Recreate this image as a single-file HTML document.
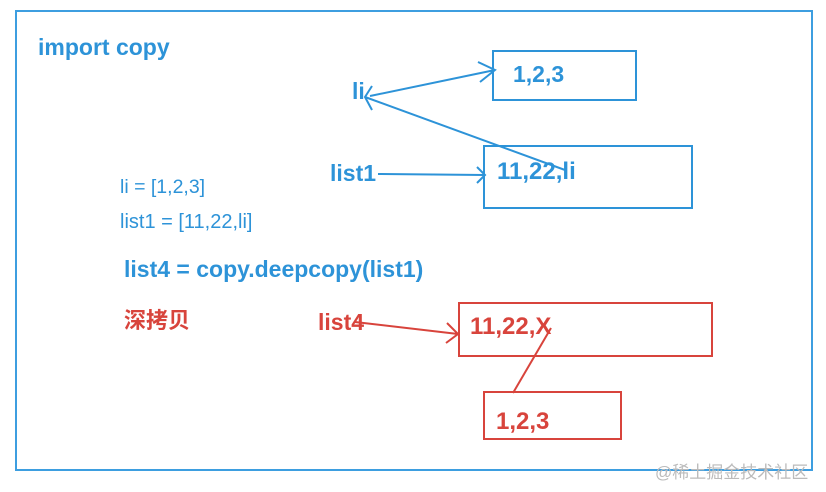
<!DOCTYPE html>
<html><head><meta charset="utf-8"><style>
body{margin:0;width:826px;height:492px;background:#fff;overflow:hidden;position:relative;font-family:"Liberation Sans","Noto Sans CJK SC",sans-serif;}
.t{position:absolute;white-space:nowrap;font-weight:bold;line-height:1;}
.b{color:#2d93d8}.r{color:#d8443c}
</style></head><body>
<svg width="826" height="492" style="position:absolute;left:0;top:0">
<rect x="16" y="11" width="796" height="459" fill="none" stroke="#3d9ee0" stroke-width="2"/>
<g fill="none" stroke="#2d93d8" stroke-width="2">
<rect x="493" y="51" width="143" height="49"/>
<rect x="484" y="146" width="208" height="62"/>
<path d="M370 96 L495 70 M478 62 L495 70 L480 82"/>
<path d="M565 170 L365 97 M372 86 L365 97 L372 110"/>
<path d="M378 174 L485 175 M477 167 L485 175 L477 183"/>
</g>
<g fill="none" stroke="#d8443c" stroke-width="2">
<rect x="459" y="303" width="253" height="53"/>
<rect x="484" y="392" width="137" height="47"/>
<path d="M355 322 L458 334 M447 323 L458 334 L446 343"/>
<path d="M551 328 L513 393"/>
</g>
</svg>
<div class="t b" style="left:38px;top:36px;font-size:23px">import copy</div>
<div class="t b" style="left:352px;top:80px;font-size:23px">li</div>
<div class="t b" style="left:513px;top:63px;font-size:23px">1,2,3</div>
<div class="t b" style="left:330px;top:162px;font-size:23px">list1</div>
<div class="t b" style="left:497px;top:160px;font-size:24px">11,22,li</div>
<div class="t b" style="left:120px;top:178px;font-size:19.5px;font-weight:normal">li = [1,2,3]</div>
<div class="t b" style="left:120px;top:212px;font-size:20px;font-weight:normal">list1 = [11,22,li]</div>
<div class="t b" style="left:124px;top:258px;font-size:23px">list4 = copy.deepcopy(list1)</div>
<div class="t r" style="left:124px;top:310px;font-size:22px">深拷贝</div>
<div class="t r" style="left:318px;top:311px;font-size:23px">list4</div>
<div class="t r" style="left:470px;top:315px;font-size:24px">11,22,X</div>
<div class="t r" style="left:496px;top:410px;font-size:24px">1,2,3</div>
<div class="t" style="left:655px;top:464px;font-size:17px;color:#bbb;font-weight:normal">@稀土掘金技术社区</div>
</body></html>
